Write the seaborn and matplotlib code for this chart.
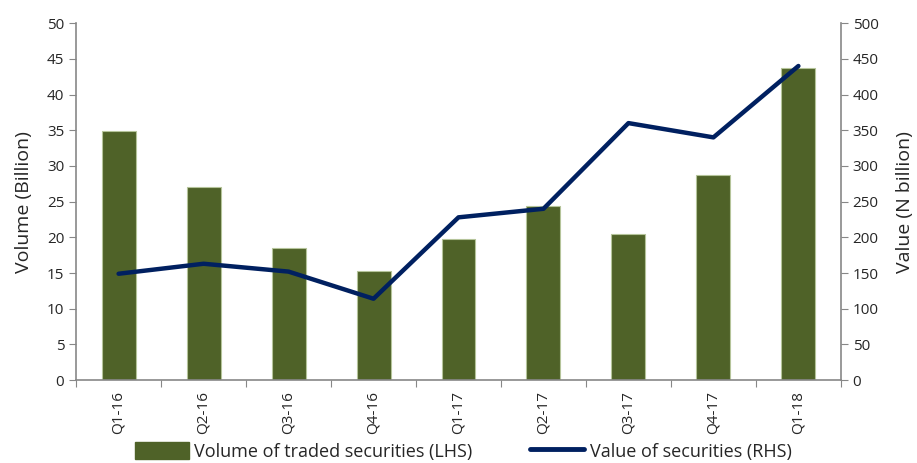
import seaborn as sns
import numpy as np
import matplotlib.pyplot as plt
from matplotlib.patches import Patch
from matplotlib.lines import Line2D

quarters = ['Q1-16', 'Q2-16', 'Q3-16', 'Q4-16', 'Q1-17', 'Q2-17', 'Q3-17', 'Q4-17', 'Q1-18']
volume = [34.9, 27.0, 18.5, 15.3, 19.8, 24.4, 20.4, 28.7, 43.7]
value = [149, 163, 152, 114, 228, 240, 360, 340, 440]

bar_color = '#4F6228'
line_color = '#002060'
grey = '#878787'

sns.set_style('white')
plt.rcParams['font.family'] = ['Open Sans', 'DejaVu Sans']
plt.rcParams['font.size'] = 11

fig = plt.figure(figsize=(9.17, 4.63), dpi=100)
ax = fig.add_axes([0.083, 0.179, 0.834, 0.771])
sns.barplot(x=quarters, y=volume, color=bar_color, width=0.4, saturation=1,
            edgecolor='#b5c49a', linewidth=0.8, ax=ax)
ax.set_xlim(-0.5, len(quarters) - 0.5)
ax.set_ylim(0, 50)
ax.set_yticks(range(0, 51, 5))
ax.set_ylabel('Volume (Billion)', fontsize=14)
ax.yaxis.set_label_coords(-0.057, 0.5)
ax.set_xlabel('')

ax2 = ax.twinx()
sns.lineplot(x=np.arange(len(quarters)), y=value, color=line_color, linewidth=3.2,
             ax=ax2, legend=False)
ax2.set_ylim(0, 500)
ax2.set_yticks(range(0, 501, 50))
ax2.set_ylabel('Value (N billion)', fontsize=14)
ax2.yaxis.set_label_coords(1.072, 0.5)
ax2.set_xlim(-0.5, len(quarters) - 0.5)

# x ticks at category boundaries, labels centred
ax.set_xticks(np.arange(-0.5, len(quarters), 1.0))
ax.set_xticklabels([])
ax.set_xticks(np.arange(len(quarters)), minor=True)
ax.set_xticklabels(quarters, minor=True, rotation=90)
ax.tick_params(axis='x', which='major', length=5, color=grey, direction='out', bottom=True)
ax.tick_params(axis='x', which='minor', length=0, pad=8, labelsize=11)
ax.tick_params(axis='y', length=5, color=grey, direction='out', left=True, labelsize=11)
ax2.tick_params(axis='y', length=5, color=grey, direction='out', right=True, labelsize=11)

for a in (ax, ax2):
    a.spines['top'].set_visible(False)
    for s in ('left', 'right', 'bottom'):
        a.spines[s].set_color(grey)
        a.spines[s].set_linewidth(1.2)
ax.spines['right'].set_visible(False)
ax2.spines['left'].set_visible(False)
ax2.spines['bottom'].set_visible(False)

handles = [Patch(facecolor=bar_color, edgecolor=bar_color),
           Line2D([0], [0], color=line_color, linewidth=3.5, solid_capstyle='round')]
labels = ['Volume of traded securities (LHS)', 'Value of securities (RHS)']
fig.legend(handles, labels, loc='lower center', bbox_to_anchor=(0.505, -0.03), ncol=2,
           frameon=False, fontsize=13, handlelength=3.0, handleheight=1.1,
           columnspacing=3.2, handletextpad=0.3)

fig.savefig('out.png', dpi=100)
